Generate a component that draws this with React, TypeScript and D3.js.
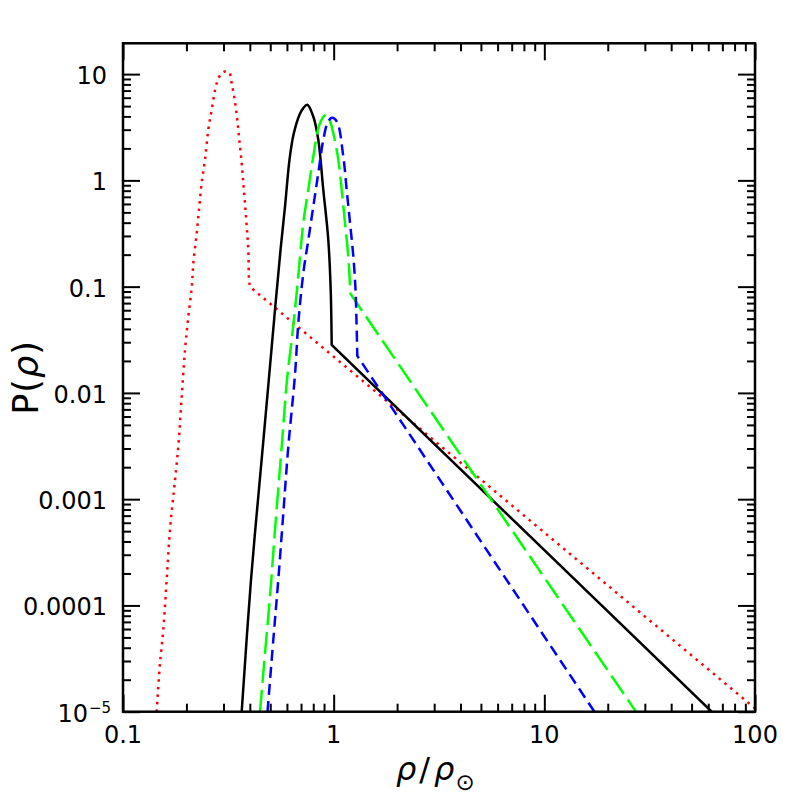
import React, { useEffect, useRef } from 'react';
import * as d3 from 'd3';

const redRho = [0.1445, 0.1498, 0.1553, 0.1612, 0.1671, 0.1733, 0.183, 0.19, 0.197, 0.2042, 0.212, 0.2157, 0.2238, 0.2302, 0.2363, 0.245, 0.254, 0.2636, 0.2785, 0.2903, 0.3049, 0.3197, 0.328, 0.3401, 0.3487, 0.3565, 0.366, 0.3724, 0.3794, 0.3866, 0.3934, 0.3964, 0.4007];
const redP = [1e-5, 2.85e-5, 5.87e-5, 1.74e-4, 5.13e-4, 1.06e-3, 3.12e-3, 9.2e-3, 0.0254, 0.0523, 0.0989, 0.166, 0.318, 0.567, 0.942, 1.56, 2.99, 4.61, 8.23, 9.85, 10.6, 10.35, 8.23, 5.52, 3.72, 2.41, 1.45, 0.942, 0.611, 0.3677, 0.222, 0.116, 0.0996];
const redTailRho = [0.4007, 100];
const redTailP = [0.0996, 1.076e-5];

const blackRho = [0.366, 0.4051, 0.4594, 0.4921, 0.5282, 0.5595, 0.5875, 0.617, 0.6446, 0.6884, 0.7175, 0.7497, 0.8003, 0.8453, 0.8929, 0.943, 0.9681, 0.9787];
const blackP = [1e-5, 1.74e-4, 2.9e-3, 0.01325, 0.0649, 0.222, 0.567, 1.561, 2.683, 4.14, 4.79, 5.14, 3.99, 2.41, 0.814, 0.2754, 0.0932, 0.0283];
const blackTailRho = [0.9787, 62.3];
const blackTailP = [0.0283, 1e-5];

const greenRho = [0.4471, 0.4721, 0.4986, 0.5266, 0.5667, 0.6004, 0.6342, 0.6698, 0.7175, 0.758, 0.8003, 0.8612, 0.9195, 0.943, 0.996, 1.052, 1.092, 1.132, 1.173, 1.202];
const greenP = [1e-5, 3.54e-5, 1.21e-4, 5.13e-4, 3.12e-3, 0.01325, 0.0337, 0.0932, 0.3957, 0.814, 1.676, 3.457, 4.14, 3.99, 2.78, 1.561, 0.814, 0.3957, 0.1919, 0.0855];
const greenTailRho = [1.202, 27.23];
const greenTailP = [0.0855, 1e-5];

const blueRho = [0.4853, 0.5169, 0.5459, 0.5767, 0.6091, 0.6552, 0.6794, 0.7175, 0.758, 0.8003, 0.8453, 0.8929, 0.9399, 0.9819, 1.037, 1.111, 1.153, 1.196, 1.24, 1.27, 1.284, 1.295];
const blueP = [1e-5, 4.73e-5, 1.74e-4, 7.37e-4, 3.12e-3, 0.01477, 0.0453, 0.1338, 0.2754, 0.567, 1.169, 2.41, 3.556, 3.88, 3.556, 1.676, 0.814, 0.3957, 0.1919, 0.0932, 0.0456, 0.0223];
const blueTailRho = [1.295, 17.29];
const blueTailP = [0.0223, 1e-5];

const xMajor = [0.1, 1, 10, 100];
const xLabels = ['0.1', '1', '10', '100'];
const yMajor = [1e-5, 1e-4, 1e-3, 0.01, 0.1, 1, 10];
const yLabels = ['', '0.0001', '0.001', '0.01', '0.1', '1', '10'];

const App = () => {
  const svgRef = useRef<SVGSVGElement>(null);

  useEffect(() => {
    const svg = d3.select(svgRef.current);
    svg.selectAll('*').remove();

    const left = 123, right = 755, top = 43.3, bottom = 711.7;
    const font = 'DejaVu Sans, sans-serif';

    const x = d3.scaleLog().domain([0.1, 100]).range([left, right]);
    const y = d3.scaleLog().domain([1e-5, 19.5]).range([bottom, top]);

    const minors = (decades: number[], max: number) => {
      const out: number[] = [];
      decades.forEach(d => { for (let k = 2; k <= 9; k++) if (d * k < max) out.push(d * k); });
      return out;
    };
    const xMinor = minors([0.1, 1, 10], 100);
    const yMinor = minors([1e-5, 1e-4, 1e-3, 0.01, 0.1, 1, 10], 19.5);

    // clip
    svg.append('defs').append('clipPath').attr('id', 'plot')
      .append('rect').attr('x', left).attr('y', top)
      .attr('width', right - left).attr('height', bottom - top);

    const g = svg.append('g').attr('clip-path', 'url(#plot)');

    const drawCurve = (rho: number[], p: number[], tRho: number[], tP: number[], color: string, width: number, dash: string | null) => {
      const body = d3.line<number>()
        .x((d, i) => x(rho[i]))
        .y((d, i) => y(p[i]))
        .curve(d3.curveCatmullRom.alpha(0.5))(rho) as string;
      const tail = tRho.slice(1).map((r, i) => `L${x(r)},${y(tP[i + 1])}`).join('');
      const path = g.append('path')
        .attr('d', body + tail)
        .attr('fill', 'none')
        .attr('stroke', color)
        .attr('stroke-width', width);
      if (dash) path.attr('stroke-dasharray', dash);
    };

    drawCurve(redRho, redP, redTailRho, redTailP, '#ff0000', 2.5, '2.5 5');
    drawCurve(blackRho, blackP, blackTailRho, blackTailP, '#000000', 2.5, null);
    drawCurve(greenRho, greenP, greenTailRho, greenTailP, '#00ff00', 2.5, '22 7');
    drawCurve(blueRho, blueP, blueTailRho, blueTailP, '#0000ff', 2.5, '11 6');

    // ticks, inward on all four sides
    const tickStyle = (sel: any) => {
      sel.select('.domain').remove();
      sel.selectAll('line').attr('stroke', '#000').attr('stroke-width', 2);
      sel.selectAll('text').remove();
    };
    const axes: [any, number[], number, string][] = [
      [d3.axisBottom(x), xMajor, 17, `translate(0,${bottom})`],
      [d3.axisBottom(x), xMinor, 8, `translate(0,${bottom})`],
      [d3.axisTop(x), xMajor, 17, `translate(0,${top})`],
      [d3.axisTop(x), xMinor, 8, `translate(0,${top})`],
      [d3.axisLeft(y), yMajor, 17, `translate(${left},0)`],
      [d3.axisLeft(y), yMinor, 8, `translate(${left},0)`],
      [d3.axisRight(y), yMajor, 17, `translate(${right},0)`],
      [d3.axisRight(y), yMinor, 8, `translate(${right},0)`],
    ];
    axes.forEach(([ax, vals, len, tr]) => {
      svg.append('g').attr('transform', tr)
        .call(ax.tickValues(vals).tickSize(-len).tickFormat(() => ''))
        .call(tickStyle);
    });

    svg.append('rect')
      .attr('x', left).attr('y', top)
      .attr('width', right - left).attr('height', bottom - top)
      .attr('fill', 'none').attr('stroke', '#000').attr('stroke-width', 2.5);

    // tick labels
    svg.selectAll('.xl').data(xMajor).enter().append('text')
      .attr('x', d => x(d)).attr('y', bottom + 31)
      .attr('text-anchor', 'middle')
      .style('font-family', font).style('font-size', '24px')
      .text((d, i) => xLabels[i]);

    svg.selectAll('.yl').data(yMajor).enter().append('text')
      .attr('x', left - 16).attr('y', d => y(d) + 10)
      .attr('text-anchor', 'end')
      .style('font-family', font).style('font-size', '24px')
      .text((d, i) => yLabels[i]);

    svg.append('text')
      .attr('x', 88).attr('y', bottom + 10)
      .attr('text-anchor', 'end')
      .style('font-family', font).style('font-size', '24px')
      .text('10');
    svg.append('text')
      .attr('x', 89).attr('y', bottom + 1)
      .style('font-family', font).style('font-size', '15px')
      .text('\u22125');

    // axis titles
    const xt = svg.append('text')
      .attr('x', 396).attr('y', 780)
      .style('font-family', font).style('font-size', '32px');
    xt.append('tspan').style('font-style', 'italic').text('ρ');
    xt.append('tspan').attr('dx', 3).text('/');
    xt.append('tspan').attr('dx', 4).style('font-style', 'italic').text('ρ');
    xt.append('tspan').attr('dx', 1).attr('dy', 10).style('font-size', '23px').text('⊙');

    const yt = svg.append('text')
      .attr('transform', `translate(38,${(top + bottom) / 2}) rotate(-90)`)
      .attr('text-anchor', 'middle')
      .style('font-family', font).style('font-size', '35px')
      .style('letter-spacing', '1px');
    yt.append('tspan').text('P(');
    yt.append('tspan').style('font-style', 'italic').text('ρ');
    yt.append('tspan').text(')');
  }, []);

  return (
    <svg ref={svgRef} width={797} height={797}
      style={{ position: 'absolute', left: 0, top: 0, background: '#fff' }}></svg>
  );
};

export default App;
